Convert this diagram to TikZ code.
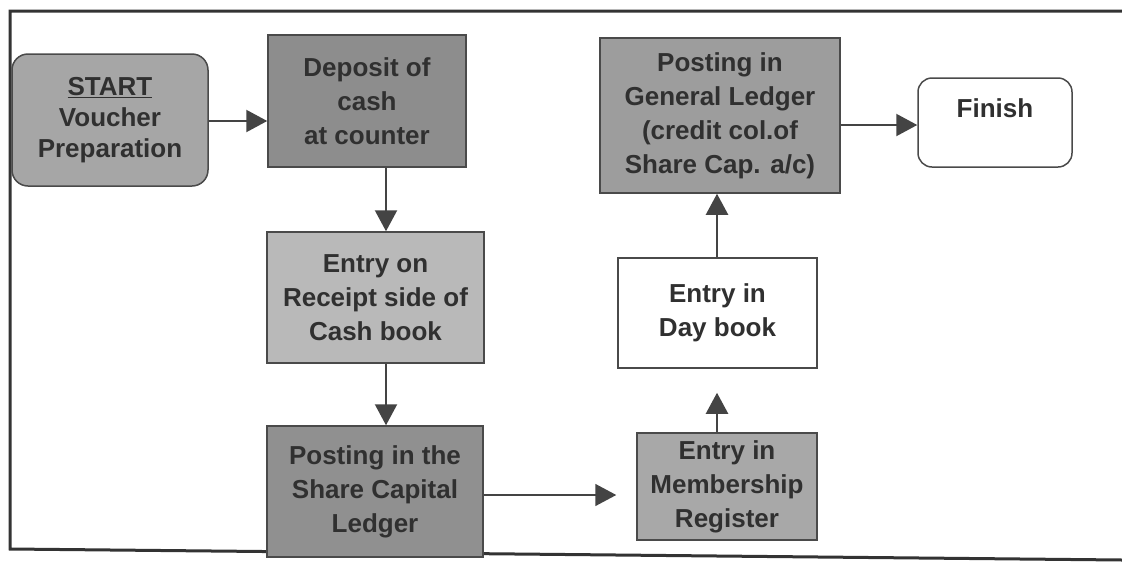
\documentclass[tikz,border=0pt]{standalone}
\usepackage{fontspec}
\setmainfont{Liberation Sans}
\usetikzlibrary{arrows.meta}
\definecolor{framec}{HTML}{333333}
\definecolor{edgec}{HTML}{4A4A4A}
\definecolor{txtc}{HTML}{303030}
\definecolor{arrc}{HTML}{444444}
\definecolor{gStart}{HTML}{A6A6A6}
\definecolor{gDeposit}{HTML}{8D8D8D}
\definecolor{gReceipt}{HTML}{B9B9B9}
\definecolor{gShare}{HTML}{909090}
\definecolor{gMember}{HTML}{A8A8A8}
\definecolor{gLedger}{HTML}{9D9D9D}
\tikzset{
  stepbox/.style={draw=edgec, line width=1.5pt, text=txtc, align=center,
    inner sep=0pt, font=\bfseries\fontsize{26}{34}\selectfont},
  flow/.style={draw=arrc, line width=2.2pt, -{Triangle[length=21pt,width=22pt]}},
  thinflow/.style={draw=arrc, line width=1.6pt, -{Triangle[length=21pt,width=22pt]}}
}
\begin{document}
\begin{tikzpicture}[x=1pt,y=-1pt]
\useasboundingbox (0,0) rectangle (1122,563);
% page frame
\draw[framec, line width=3pt] (1122,11) -- (10,11) -- (10,549) -- (1122,560);

% column / row guides for the connectors
\coordinate (colA) at (386,0);
\coordinate (colB) at (717,0);
\coordinate (rowA) at (0,121);
\coordinate (rowB) at (0,125);
\coordinate (rowC) at (0,495);

% process boxes
\node[stepbox, fill=gStart, rounded corners=16pt, minimum width=196pt, minimum height=132pt,
  font=\bfseries\fontsize{26}{31}\selectfont] (start) at (110,120)
  {\underline{START}\\Voucher\\Preparation};
\node[stepbox, fill=gDeposit, minimum width=198pt, minimum height=132pt] (deposit) at (367,101)
  {Deposit of\\cash\\at counter};
\node[stepbox, fill=gReceipt, minimum width=217pt, minimum height=131pt] (receipt) at (375.5,297.5)
  {Entry on\\Receipt side of\\Cash book};
\node[stepbox, fill=gShare, minimum width=216pt, minimum height=131pt] (share) at (375,491.5)
  {Posting in the\\Share Capital\\Ledger};
\node[stepbox, fill=gMember, minimum width=180pt, minimum height=107pt] (member) at (727,486.5)
  {Entry in\\Membership\\Register};
\node[stepbox, fill=white, minimum width=199pt, minimum height=110pt] (day) at (717.5,313)
  {Entry in\\Day book};
\node[stepbox, fill=gLedger, minimum width=240pt, minimum height=155pt] (gl) at (720,115.5)
  {Posting in\\General Ledger\\(credit col.of\\Share Cap. a/c)};
\node[stepbox, fill=white, rounded corners=14pt, minimum width=154pt, minimum height=89pt] (finish) at (995,122.5)
  {Finish\\[-6pt]\mbox{}};

% connectors
\draw[flow] (start.east |- rowA) -- (deposit.west |- rowA);
\draw[flow] (deposit.south -| colA) -- (receipt.north -| colA);
\draw[flow] (receipt.south -| colA) -- (share.north -| colA);
\draw[thinflow, shorten >=20pt] (share.east |- rowC) -- (member.west |- rowC);
\draw[flow, shorten >=24pt] (member.north -| colB) -- (day.south -| colB);
\draw[flow] (day.north -| colB) -- (gl.south -| colB);
\draw[flow] (gl.east |- rowB) -- (finish.west |- rowB);
\end{tikzpicture}
\end{document}
